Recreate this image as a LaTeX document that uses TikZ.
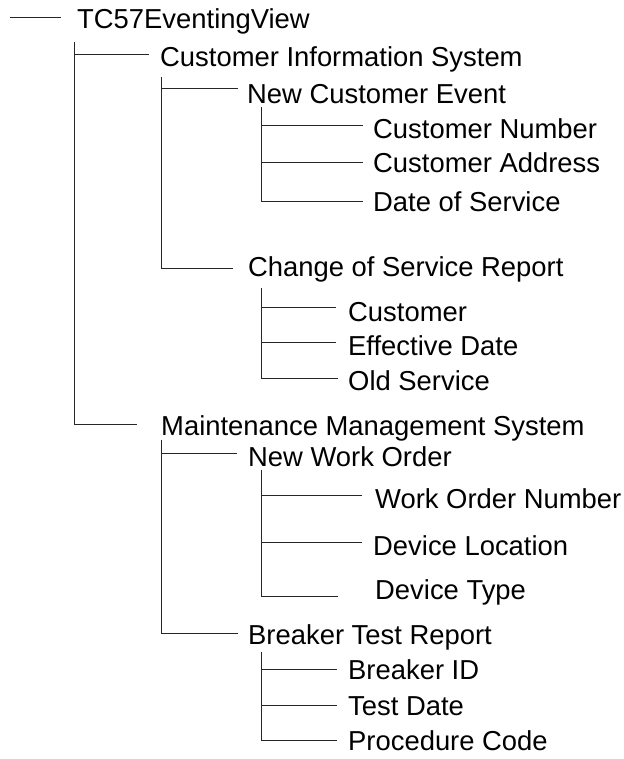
\documentclass[tikz,border=0pt]{standalone}
\usepackage{fontspec}
\setmainfont{Liberation Sans}
\begin{document}
\begin{tikzpicture}[x=1pt,y=-1pt,
  lbl/.style={anchor=west, inner sep=0pt, text height=19.6pt, text depth=0pt,
              font=\fontsize{27.4}{32}\selectfont},
  tree/.style={line width=1pt, line cap=rect, draw=black!85}]
\useasboundingbox (0,0) rectangle (623,759);

% labels
\node[lbl] (root) at (77,19)  {TC57EventingView};
\node[lbl] (cis)  at (160,57) {Customer Information System};
\node[lbl] (nce)  at (247,94) {New Customer Event};
\node[lbl] (cnum) at (373,129) {Customer Number};
\node[lbl] (cadr) at (373,163) {Customer Address};
\node[lbl] (dos)  at (373,202) {Date of Service};
\node[lbl] (cosr) at (248,267) {Change of Service Report};
\node[lbl] (cust) at (348,312) {Customer};
\node[lbl] (effd) at (348,346) {Effective Date};
\node[lbl] (olds) at (348,381) {Old Service};
\node[lbl] (mms)  at (161,426) {Maintenance Management System};
\node[lbl] (nwo)  at (248,457) {New Work Order};
\node[lbl] (won)  at (375,499) {Work Order Number};
\node[lbl] (devl) at (373,546) {Device Location};
\node[lbl] (devt) at (375,590) {Device Type};
\node[lbl] (btr)  at (248,635) {Breaker Test Report};
\node[lbl] (bid)  at (348,670) {Breaker ID};
\node[lbl] (tdat) at (348,706) {Test Date};
\node[lbl] (proc) at (348,741) {Procedure Code};

% tree joints
\coordinate (r0)  at (10,18);   \coordinate (r1)  at (60,18);
\coordinate (v1t) at (74,43);
\coordinate (h1a) at (148,55);  \coordinate (h1b) at (136,424);
\coordinate (v2t) at (161,78);
\coordinate (h2a) at (237,89);  \coordinate (h2b) at (232,268);
\coordinate (v3t) at (261,108);
\coordinate (h3a) at (362,126); \coordinate (h3b) at (362,163); \coordinate (h3c) at (362,202);
\coordinate (v4t) at (261,288);
\coordinate (h4a) at (335,307); \coordinate (h4b) at (335,342); \coordinate (h4c) at (337,378);
\coordinate (v5t) at (161,440);
\coordinate (h5a) at (236,453); \coordinate (h5b) at (237,633);
\coordinate (v6t) at (261,470);
\coordinate (h6a) at (361,495); \coordinate (h6b) at (361,542); \coordinate (h6c) at (337,596);
\coordinate (v7t) at (261,652);
\coordinate (h7a) at (336,669); \coordinate (h7b) at (336,705); \coordinate (h7c) at (336,740);

\draw[tree] (r0) -- (r1);
\draw[tree] (v1t) |- (h1b);  \draw[tree] (v1t |- h1a) -- (h1a);
\draw[tree] (v2t) |- (h2b);  \draw[tree] (v2t |- h2a) -- (h2a);
\draw[tree] (v3t) |- (h3c);  \draw[tree] (v3t |- h3a) -- (h3a); \draw[tree] (v3t |- h3b) -- (h3b);
\draw[tree] (v4t) |- (h4c);  \draw[tree] (v4t |- h4a) -- (h4a); \draw[tree] (v4t |- h4b) -- (h4b);
\draw[tree] (v5t) |- (h5b);  \draw[tree] (v5t |- h5a) -- (h5a);
\draw[tree] (v6t) |- (h6c);  \draw[tree] (v6t |- h6a) -- (h6a); \draw[tree] (v6t |- h6b) -- (h6b);
\draw[tree] (v7t) |- (h7c);  \draw[tree] (v7t |- h7a) -- (h7a); \draw[tree] (v7t |- h7b) -- (h7b);
\end{tikzpicture}
\end{document}
